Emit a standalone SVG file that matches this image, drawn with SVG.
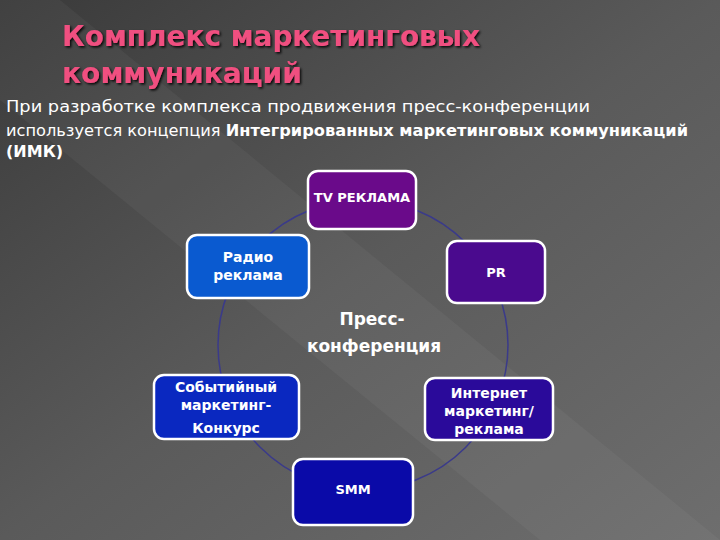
<svg xmlns="http://www.w3.org/2000/svg" width="720" height="540" viewBox="0 0 720 540">
<defs>
<linearGradient id="bg" x1="0" y1="0" x2="1" y2="1">
<stop offset="0" stop-color="#3a3a3a"/><stop offset="0.5" stop-color="#5a5a5a"/><stop offset="1" stop-color="#6e6e6e"/>
</linearGradient>
<filter id="sh"><feDropShadow dx="1.5" dy="1.5" stdDeviation="0.8" flood-color="#000" flood-opacity="0.9"/></filter>
<style>
.box{stroke:#fff;stroke-width:2.5}
.t{font-family:"DejaVu Sans",sans-serif;fill:#fff;font-weight:bold;text-anchor:middle}
.b{font-family:"DejaVu Sans",sans-serif;fill:#fff;font-size:16px}
</style>
</defs>
<rect width="720" height="540" fill="url(#bg)"/>
<polygon points="0,0 60,0 720,540 540,540 0,100" fill="#fff" opacity="0.04"/>
<g id="title" filter="url(#sh)">
<text x="62" y="46" font-family="DejaVu Sans, sans-serif" font-size="29" font-weight="bold" fill="#f05080" textLength="418" lengthAdjust="spacingAndGlyphs">Комплекс маркетинговых</text>
<text x="62" y="83" font-family="DejaVu Sans, sans-serif" font-size="29" font-weight="bold" fill="#f05080" textLength="240" lengthAdjust="spacingAndGlyphs">коммуникаций</text>
</g>
<g id="intro">
<text class="b" x="6" y="112" textLength="584" lengthAdjust="spacingAndGlyphs">При разработке комплекса продвижения пресс-конференции</text>
<text class="b" x="6" y="136" textLength="682" lengthAdjust="spacingAndGlyphs">используется концепция <tspan font-weight="bold">Интегрированных маркетинговых коммуникаций</tspan></text>
<text class="b" x="6" y="157" font-weight="bold">(ИМК)</text>
</g>
<g id="connectors">
<circle cx="363" cy="345" r="145" fill="none" stroke="#3a3a8a" stroke-width="1.5"/>
</g>
<g id="center"><text class="t" x="372" y="325" font-size="17">Пресс-</text><text class="t" x="374" y="352" font-size="17">конференция</text></g>
<g id="tv"><rect class="box" x="308" y="171" width="108" height="58" rx="10" fill="#6a0a8a"/><text class="t" x="362" y="202" font-size="13">TV РЕКЛАМА</text></g>
<g id="radio"><rect class="box" x="187" y="235" width="122" height="63" rx="10" fill="#0a5ad0"/><text class="t" x="248" y="262" font-size="14">Радио</text><text class="t" x="248" y="280" font-size="14">реклама</text></g>
<g id="pr"><rect class="box" x="447" y="241" width="98" height="62" rx="10" fill="#4a0a8e"/><text class="t" x="496" y="277" font-size="13">PR</text></g>
<g id="event"><rect class="box" x="154" y="375" width="145" height="64" rx="10" fill="#0a28c0"/><text class="t" x="226" y="392" font-size="14">Событийный</text><text class="t" x="226" y="410" font-size="14">маркетинг-</text><text class="t" x="226" y="433" font-size="14">Конкурс</text></g>
<g id="internet"><rect class="box" x="425" y="378" width="128" height="62" rx="10" fill="#2a0a9a"/><text class="t" x="489" y="398" font-size="14">Интернет</text><text class="t" x="489" y="416" font-size="14">маркетинг/</text><text class="t" x="489" y="434" font-size="14">реклама</text></g>
<g id="smm"><rect class="box" x="293" y="459" width="120" height="66" rx="10" fill="#0a0aa8"/><text class="t" x="353" y="494" font-size="13">SMM</text></g>
</svg>
